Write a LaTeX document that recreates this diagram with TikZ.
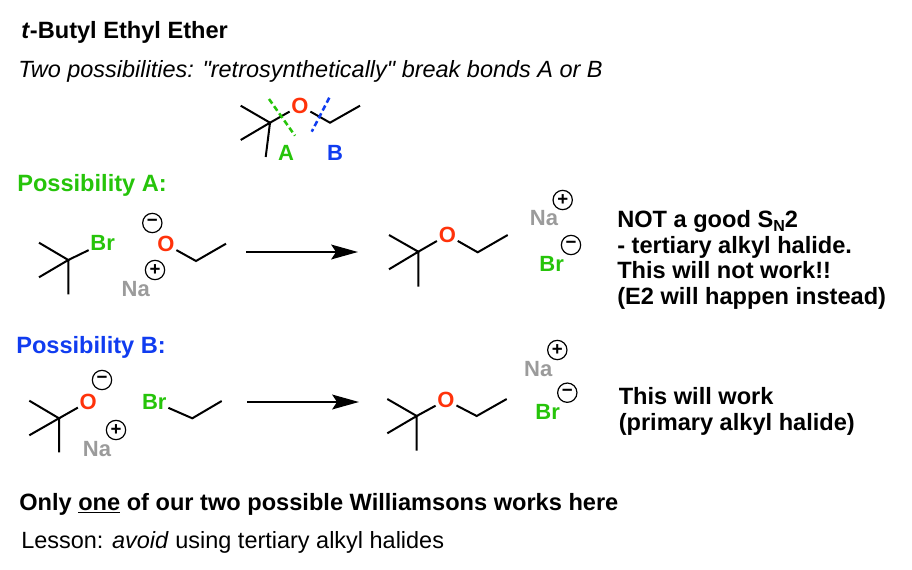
\documentclass[tikz,border=0pt]{standalone}
\usepackage{fontspec}
\setmainfont{Liberation Sans}
\newfontfamily\plainfont{Liberation Sans}
\usetikzlibrary{arrows.meta}
\definecolor{brgreen}{RGB}{38,196,10}
\definecolor{oxred}{RGB}{255,50,10}
\definecolor{bblue}{RGB}{16,60,240}
\definecolor{nagrey}{RGB}{155,155,155}
\tikzset{
  bond/.style={line width=1.5pt},
  atom/.style={font=\fontsize{16.5}{16.5}\selectfont\bfseries,inner sep=1.2pt},
  oxy/.style={atom,oxred},
  brom/.style={atom,brgreen},
  sod/.style={atom,nagrey},
  charge/.style={circle,draw,line width=0.9pt,minimum size=14.5pt,inner sep=0pt,font=\fontsize{14}{14}\selectfont\bfseries},
  rxn/.style={line width=1.9pt,-{Stealth[length=20pt,width=11pt,inset=3.5pt]}},
  cut/.style={line width=1.9pt,dash pattern=on 4.2pt off 2.4pt},
  head/.style={anchor=base west,font=\fontsize{17.7}{17.7}\selectfont\bfseries,inner sep=0pt},
  note/.style={anchor=base west,font=\fontsize{17.6}{17.6}\selectfont,inner sep=0pt},
}
\begin{document}
\begin{tikzpicture}[x=0.75pt,y=-0.75pt]
\useasboundingbox (0,0) rectangle (912,570);

% headings
\node[head] (title) at (21,39) {\textit{t}-Butyl Ethyl Ether};
\node[note] (intro) at (18,78) {\plainfont\itshape Two possibilities: "retrosynthetically" break bonds A or B};

% top ether
\coordinate (tc) at (270,122.7);
\coordinate (tm1) at (240.7,105.7);
\coordinate (tm2) at (240.7,140);
\coordinate (tm3) at (265.7,157);
\node[oxy] (to) at (300,105.7) {O};
\coordinate (tch) at (330,122.7);
\coordinate (tme) at (360,105.7);
\draw[bond] (tm1) -- (tc) -- (tm2) (tc) -- (tm3);
\draw[bond] (tc) -- (to);
\draw[bond] (to) -- (tch) -- (tme);
\coordinate (ga) at (269,99);
\coordinate (gb) at (295,135.7);
\coordinate (ba) at (329.3,97.7);
\coordinate (bb) at (311.7,131.7);
\draw[cut,brgreen] (ga) -- (gb);
\draw[cut,bblue] (ba) -- (bb);
\node[brom] (la) at (286,153) {A};
\node[atom,bblue] (lb) at (335,153) {B};

% possibility A
\node[head,brgreen] (posa) at (17,192) {Possibility A:};
\coordinate (ac) at (68.3,260);
\coordinate (am1) at (39,242.7);
\coordinate (am2) at (39,277.3);
\coordinate (am3) at (68.3,294.3);
\node[brom] (abr) at (102.7,243.3) {Br};
\draw[bond] (am1) -- (ac) -- (am2) (ac) -- (am3);
\draw[bond] (ac) -- (abr);
\node[oxy] (ao) at (166,244.3) {O};
\coordinate (ach) at (196,261);
\coordinate (ame) at (226,243.7);
\draw[bond] (ao) -- (ach) -- (ame);
\node[charge] (amin) at (152.3,223) {−};
\node[charge] (apl) at (155,270) {+};
\node[sod] (ana) at (135.7,289.3) {Na};
\coordinate (aarr) at (246,252);
\coordinate (aarrend) at (358,252);
\draw[rxn] (aarr) -- (aarrend);

% product A
\coordinate (pc) at (418.3,251.7);
\coordinate (pm1) at (389,235);
\coordinate (pm2) at (389,269.3);
\coordinate (pm3) at (418.3,286.7);
\node[oxy] (po) at (447.3,235) {O};
\coordinate (pch) at (477.7,252.3);
\coordinate (pme) at (507.7,235);
\draw[bond] (pm1) -- (pc) -- (pm2) (pc) -- (pm3);
\draw[bond] (pc) -- (po);
\draw[bond] (po) -- (pch) -- (pme);
\node[sod] (pna) at (544,217.7) {Na};
\node[charge] (ppl) at (562.7,200) {+};
\node[charge] (pmin) at (571,245) {−};
\node[brom] (pbr) at (551.7,264.3) {Br};

\node[head] (n1) at (617,227) {NOT a good S\raisebox{-3.5pt}{\fontsize{12}{12}\selectfont N}2};
\node[head] (n2) at (617,253) {- tertiary alkyl halide.};
\node[head] (n3) at (617,278.5) {This will not work!!};
\node[head] (n4) at (617,304) {(E2 will happen instead)};

% possibility B
\node[head,bblue] (posb) at (16,353) {Possibility B:};
\coordinate (bc) at (59,418.3);
\coordinate (bm1) at (29.3,400.7);
\coordinate (bm2) at (29.3,435.3);
\coordinate (bm3) at (59,452.3);
\node[oxy] (bo) at (88.3,401.7) {O};
\draw[bond] (bm1) -- (bc) -- (bm2) (bc) -- (bm3);
\draw[bond] (bc) -- (bo);
\node[charge] (bmin) at (102,380) {−};
\node[charge] (bpl) at (116,430) {+};
\node[sod] (bna) at (97,449.3) {Na};
\node[brom] (bbr) at (154.3,401.7) {Br};
\coordinate (bch) at (192.3,418.3);
\coordinate (bme) at (221.7,401);
\draw[bond] (bbr) -- (bch) -- (bme);
\coordinate (barr) at (247,402);
\coordinate (barrend) at (359,402);
\draw[rxn] (barr) -- (barrend);

% product B
\coordinate (qc) at (416.7,416);
\coordinate (qm1) at (387.3,399);
\coordinate (qm2) at (387.3,433.3);
\coordinate (qm3) at (416.7,450.7);
\node[oxy] (qo) at (446,400) {O};
\coordinate (qch) at (476.7,416);
\coordinate (qme) at (506.7,399);
\draw[bond] (qm1) -- (qc) -- (qm2) (qc) -- (qm3);
\draw[bond] (qc) -- (qo);
\draw[bond] (qo) -- (qch) -- (qme);
\node[sod] (qna) at (538.3,369) {Na};
\node[charge] (qpl) at (557.3,350) {+};
\node[charge] (qmin) at (567.3,392.7) {−};
\node[brom] (qbr) at (547.7,412.3) {Br};

\node[head] (m1) at (618.5,404) {This will work};
\node[head] (m2) at (618.5,430) {(primary alkyl halide)};

% conclusion
\node[head] (only) at (19,510) {Only \underline{one} of our two possible Williamsons works here};
\node[note] (lesson) at (21,548) {Lesson: \textit{avoid} using tertiary alkyl halides};
\end{tikzpicture}
\end{document}
